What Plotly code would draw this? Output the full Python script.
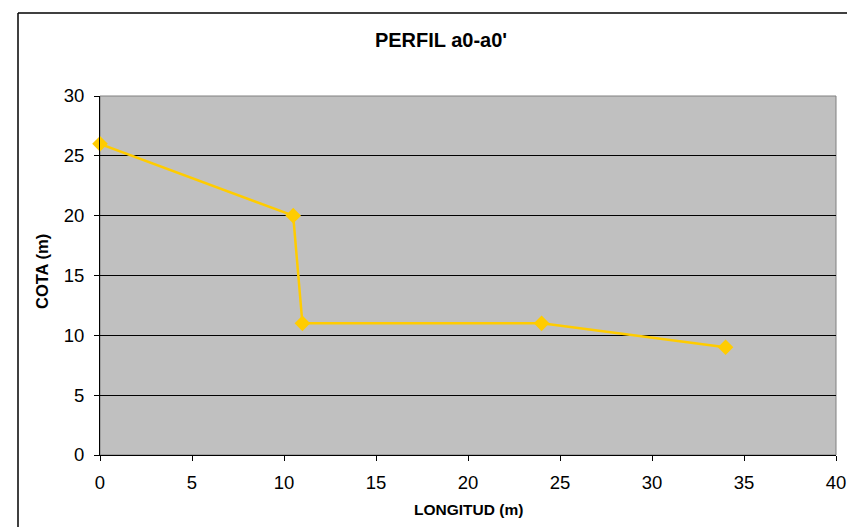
import plotly.graph_objects as go

longitud = [0, 10.5, 11, 24, 34]
cota = [26, 20, 11, 11, 9]
x_ticks = [0, 5, 10, 15, 20, 25, 30, 35, 40]
y_ticks = [0, 5, 10, 15, 20, 25, 30]

fig = go.Figure()
fig.add_trace(go.Scatter(
    x=longitud, y=cota, mode="lines+markers",
    line=dict(color="#FFCC00", width=2.5),
    marker=dict(symbol="diamond", size=12, color="#FFCC00"),
    cliponaxis=False, showlegend=False,
))

font_family = "Liberation Sans, Arial, sans-serif"
fig.update_layout(
    width=847, height=527,
    margin=dict(l=100, r=11, t=96, b=72, autoexpand=False),
    paper_bgcolor="white", plot_bgcolor="#C0C0C0",
    font=dict(family=font_family, color="black", size=18.5),
    title=dict(text="<b>PERFIL a0-a0'</b>", x=(441 - 100) / 736, xref="paper", xanchor="center",
               y=1 - 40/527, yanchor="middle", font=dict(size=20, color="black")),
    xaxis=dict(range=[0, 40], tickvals=x_ticks, showgrid=False, zeroline=False,
               showline=True, linecolor="black", linewidth=1, automargin=False,
               ticks="outside", ticklen=5, tickcolor="black",
               tickfont=dict(size=18.5), ticklabelstandoff=6),
    yaxis=dict(range=[0, 30], tickvals=y_ticks, showgrid=True, gridcolor="black", gridwidth=1,
               zeroline=False, showline=True, linecolor="black", linewidth=1, automargin=False,
               ticks="outside", ticklen=5, tickcolor="black",
               tickfont=dict(size=18.5), ticklabelstandoff=6),
    annotations=[
        dict(text="<b>LONGITUD (m)</b>", xref="paper", yref="paper", x=0.5, y=-54/359,
             xanchor="center", yanchor="middle", showarrow=False, font=dict(size=15.5)),
        dict(text="<b>COTA (m)</b>", xref="paper", yref="paper", x=-58/736, y=183/359,
             xanchor="center", yanchor="middle", textangle=-90, showarrow=False, font=dict(size=16.5)),
    ],
    shapes=[
        dict(type="rect", xref="paper", yref="paper", x0=0, x1=1, y0=0, y1=1,
             line=dict(color="#808080", width=1), fillcolor="rgba(0,0,0,0)", layer="below"),
        dict(type="line", xref="paper", yref="paper", x0=-82/736, x1=1.05, y0=442/359, y1=442/359,
             line=dict(color="black", width=1.5)),
        dict(type="line", xref="paper", yref="paper", x0=-82/736, x1=-82/736, y0=442/359, y1=-0.3,
             line=dict(color="black", width=1.5)),
    ],
)

fig.write_html("out.html", config={"displayModeBar": False},
               post_script="document.body.style.margin='0';document.body.style.overflow='hidden';")
